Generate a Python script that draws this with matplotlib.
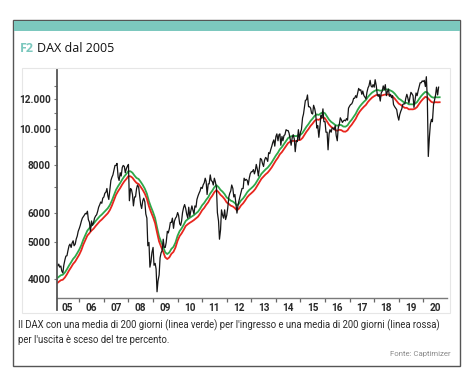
import matplotlib
matplotlib.use("Agg")
import matplotlib.pyplot as plt
import matplotlib.dates as mdates
from matplotlib.patches import Rectangle
from matplotlib.lines import Line2D
from matplotlib.ticker import FixedLocator, FixedFormatter, NullFormatter
import numpy as np
import pandas as pd

# ---------------- data (DAX, semi-monthly readings, Feb 2005 - Aug 2020) ----------------
dax_2005 = [4380, 4330, 4380, 4300, 4330, 4200, 4150, 4350, 4500, 4600, 4610, 4750,
            4900, 4950, 4850, 4980, 5050, 4900, 4950, 5100, 5200, 5350]
dax_2006 = [5450, 5550, 5700, 5800, 5850, 5900, 5970, 5950, 6050, 5750, 5650, 5350,
            5700, 5550, 5650, 5800, 5880, 5920, 6050, 6200, 6300, 6400, 6350, 6550]
dax_2007 = [6600, 6750, 6800, 6950, 6650, 6500, 6950, 7300, 7450, 7550, 7800, 8000,
            8000, 8100, 7450, 7300, 7650, 7500, 7900, 8000, 7950, 7650, 7850, 7950]
dax_2008 = [8050, 6450, 6950, 6900, 6700, 6250, 6600, 6600, 6950, 7100, 7000, 6650,
            6300, 6150, 6450, 6550, 6400, 5950, 5800, 4900, 5000, 4300, 4450, 4700]
dax_2009 = [4850, 4350, 4400, 4250, 3700, 3950, 4100, 4550, 4700, 4750, 5100, 4850,
            4850, 5000, 5350, 5300, 5450, 5650, 5650, 5800, 5450, 5700, 5800, 5850]
dax_2010 = [6000, 5900, 5600, 5550, 5700, 6000, 6200, 6300, 6150, 5950, 5800, 6200,
            5850, 6050, 6250, 6100, 5950, 6250, 6200, 6500, 6650, 6750, 6850, 7000]
dax_2011 = [6950, 7100, 7200, 7400, 7250, 6700, 7150, 7150, 7550, 7300, 7250, 7100,
            7400, 7250, 7000, 6000, 5700, 5100, 5400, 6100, 5900, 5800, 6100, 5750]
dax_2012 = [5900, 6150, 6600, 6750, 6850, 7100, 6950, 6600, 6700, 6350, 5980, 6250,
            6450, 6600, 6800, 6950, 6950, 7400, 7300, 7350, 7300, 7100, 7400, 7600]
dax_2013 = [7700, 7700, 7800, 7600, 7750, 8050, 7800, 7500, 7900, 8350, 8300, 8100,
            7950, 8250, 8400, 8350, 8200, 8650, 8600, 8800, 9000, 9200, 9350, 9000]
dax_2014 = [9550, 9700, 9300, 9650, 9700, 9050, 9550, 9300, 9600, 9650, 9950, 9900,
            9900, 9750, 9400, 9050, 9500, 9650, 9400, 8700, 9300, 9250, 9950, 9350]
dax_2015 = [9800, 9950, 10700, 10950, 11400, 11900, 11950, 12300, 11450, 11450, 11350, 11000,
            10950, 11550, 11300, 10950, 10050, 10200, 9500, 10050, 10850, 10700, 11300, 10450]
dax_2016 = [10450, 9800, 9800, 8800, 9700, 9950, 9800, 10050, 10050, 9950, 10200, 9600,
            9300, 10050, 10300, 10700, 10550, 10400, 10500, 10550, 10500, 10650, 10550, 11350]
dax_2017 = [11500, 11600, 11650, 11800, 12050, 12050, 12250, 12100, 12450, 12800, 12650, 12700,
            12350, 12600, 12250, 12150, 12000, 12500, 12850, 13000, 13450, 13000, 12900, 13100]
dax_2018 = [12900, 13500, 13000, 12350, 12200, 12350, 11850, 12450, 12600, 13000, 12700, 13100,
            12250, 12550, 12750, 12200, 12350, 12100, 12250, 11600, 11450, 11350, 11250, 10850]
dax_2019 = [10550, 10900, 11150, 11300, 11600, 11650, 11650, 12050, 12350, 12100, 11700, 12100,
            12500, 12400, 12250, 11400, 11950, 12450, 12250, 12600, 12950, 13250, 13250, 13400]
dax_2020 = [13350, 13450, 12950, 13750, 11900, 8450, 9550, 10300, 10600, 10450, 11600, 11900,
            12300, 12900, 12300, 12900]

# 200-day average (green), monthly readings Jan 2005 - Aug 2020
ma_2005 = [4013, 4049, 4092, 4105, 4162, 4242, 4341, 4428, 4520, 4587, 4681, 4787]
ma_2006 = [4919, 5081, 5232, 5374, 5455, 5540, 5604, 5697, 5778, 5864, 5927, 6007]
ma_2007 = [6089, 6160, 6283, 6455, 6675, 6890, 7048, 7185, 7340, 7482, 7591, 7726]
ma_2008 = [7719, 7653, 7518, 7412, 7364, 7242, 7103, 6944, 6740, 6432, 6214, 6020]
ma_2009 = [5800, 5490, 5188, 5023, 4870, 4708, 4658, 4706, 4807, 4867, 4996, 5207]
ma_2010 = [5360, 5443, 5564, 5697, 5760, 5810, 5857, 5908, 5969, 6033, 6141, 6273]
ma_2011 = [6365, 6479, 6586, 6741, 6856, 7001, 7094, 7012, 6894, 6816, 6717, 6580]
ma_2012 = [6522, 6456, 6421, 6360, 6270, 6333, 6460, 6543, 6656, 6792, 6887, 6962]
ma_2013 = [7045, 7143, 7296, 7446, 7604, 7703, 7809, 7893, 8012, 8154, 8317, 8498]
ma_2014 = [8649, 8827, 8948, 9112, 9279, 9452, 9533, 9577, 9584, 9561, 9628, 9640]
ma_2015 = [9754, 9934, 10136, 10298, 10499, 10646, 10830, 10923, 10891, 10995, 11064, 10998]
ma_2016 = [10781, 10585, 10441, 10350, 10246, 10188, 10255, 10230, 10143, 10135, 10219, 10418]
ma_2017 = [10574, 10754, 10959, 11235, 11463, 11636, 11796, 11936, 12154, 12329, 12478, 12587]
ma_2018 = [12674, 12674, 12622, 12651, 12700, 12725, 12722, 12636, 12558, 12411, 12218, 12030]
ma_2019 = [11938, 11828, 11720, 11724, 11616, 11620, 11614, 11663, 11780, 12011, 12217, 12390]
ma_2020 = [12536, 12491, 12311, 12158, 12098, 12135, 12123, 12131]

# exit line (red): 200-day average lowered by three percent
exit_2005 = [3893, 3928, 3969, 3982, 4037, 4115, 4211, 4295, 4384, 4449, 4541, 4643]
exit_2006 = [4771, 4929, 5075, 5213, 5291, 5374, 5436, 5526, 5605, 5688, 5749, 5827]
exit_2007 = [5906, 5975, 6095, 6261, 6475, 6683, 6837, 6969, 7120, 7258, 7363, 7494]
exit_2008 = [7487, 7423, 7292, 7190, 7143, 7025, 6890, 6736, 6538, 6239, 6028, 5839]
exit_2009 = [5626, 5325, 5032, 4872, 4724, 4567, 4518, 4565, 4663, 4721, 4846, 5051]
exit_2010 = [5199, 5280, 5397, 5526, 5587, 5636, 5681, 5731, 5790, 5852, 5957, 6085]
exit_2011 = [6174, 6285, 6388, 6539, 6650, 6791, 6881, 6802, 6687, 6612, 6515, 6383]
exit_2012 = [6326, 6262, 6228, 6169, 6082, 6143, 6266, 6347, 6456, 6588, 6680, 6753]
exit_2013 = [6834, 6929, 7077, 7223, 7376, 7472, 7575, 7656, 7772, 7909, 8067, 8243]
exit_2014 = [8390, 8562, 8680, 8839, 9001, 9168, 9247, 9290, 9296, 9274, 9339, 9351]
exit_2015 = [9461, 9636, 9832, 9989, 10184, 10327, 10505, 10595, 10564, 10665, 10732, 10668]
exit_2016 = [10458, 10267, 10128, 10039, 9939, 9882, 9947, 9923, 9839, 9831, 9912, 10105]
exit_2017 = [10257, 10431, 10630, 10898, 11119, 11287, 11442, 11578, 11789, 11959, 12104, 12209]
exit_2018 = [12294, 12294, 12243, 12271, 12319, 12343, 12340, 12257, 12181, 12039, 11851, 11669]
exit_2019 = [11580, 11473, 11368, 11372, 11267, 11271, 11266, 11313, 11427, 11651, 11850, 12018]
exit_2020 = [12160, 12116, 11942, 11793, 11735, 11771, 11759, 11767]

y_ticks = [4000, 5000, 6000, 8000, 10000, 12000]
y_tick_labels = ["4000", "5000", "6000", "8000", "10.000", "12.000"]
y_minor_ticks = [7000, 9000, 11000, 13000]

title_tag = "F2"
title_text = "DAX dal 2005"
caption = ("Il DAX con una media di 200 giorni (linea verde) per l'ingresso e una media di 200 giorni (linea rossa)\n"
           "per l'uscita è sceso del tre percento.")
source_text = "Fonte: Captimizer"

dax = sum([dax_2005, dax_2006, dax_2007, dax_2008, dax_2009, dax_2010, dax_2011, dax_2012,
           dax_2013, dax_2014, dax_2015, dax_2016, dax_2017, dax_2018, dax_2019, dax_2020], [])
ma = sum([ma_2005, ma_2006, ma_2007, ma_2008, ma_2009, ma_2010, ma_2011, ma_2012,
          ma_2013, ma_2014, ma_2015, ma_2016, ma_2017, ma_2018, ma_2019, ma_2020], [])
exit_line = sum([exit_2005, exit_2006, exit_2007, exit_2008, exit_2009, exit_2010, exit_2011, exit_2012,
                 exit_2013, exit_2014, exit_2015, exit_2016, exit_2017, exit_2018, exit_2019, exit_2020], [])

dax_dates = pd.date_range("2005-02-01", periods=len(dax), freq="SMS").to_numpy()
ma_dates = (pd.date_range("2005-02-01", periods=len(ma), freq="MS") - pd.Timedelta(days=1)).to_numpy()

# ---------------- figure ----------------
W, H = 474, 376
fig = plt.figure(figsize=(W / 100, H / 100), dpi=100)
fig.patch.set_facecolor("white")

def fx(p):
    return p / W

def fy(p):
    return 1 - p / H

TEAL = "#7cc8be"
narrow = ["Liberation Sans Narrow", "Roboto", "DejaVu Sans"]

fig.patches.append(Rectangle((fx(13), fy(366)), fx(460) - fx(13), fy(20) - fy(366),
                             transform=fig.transFigure, facecolor="white",
                             edgecolor="#555555", lw=1.0, zorder=-3))
fig.patches.append(Rectangle((fx(13.5), fy(30.5)), fx(459.5) - fx(13.5), fy(20.5) - fy(30.5),
                             transform=fig.transFigure, facecolor=TEAL,
                             edgecolor="none", zorder=-2))
fig.patches.append(Rectangle((fx(22), fy(313)), fx(450) - fx(22), fy(68) - fy(313),
                             transform=fig.transFigure, facecolor="none",
                             edgecolor="#e6e6e6", lw=0.8, zorder=-2))

fig.text(fx(19.5), fy(52), title_tag, color=TEAL, fontsize=9, fontweight="bold",
         family=["Open Sans", "DejaVu Sans"], va="baseline", ha="left")
fig.text(fx(37), fy(52), title_text, color="#111111", fontsize=9,
         family=["Open Sans", "DejaVu Sans"], va="baseline", ha="left")

fig.text(fx(18), fy(319), caption, color="#2a2a2a", fontsize=6.85, family=narrow,
         va="top", ha="left", linespacing=1.5)
fig.text(fx(451), fy(354), source_text, color="#8a8a8a", fontsize=5.6, family=narrow,
         va="center", ha="right")

# ---------------- axes ----------------
ax = fig.add_axes([fx(57), fy(298), fx(447) - fx(57), fy(70) - fy(298)])
ax.patch.set_alpha(0)

ax.plot(ma_dates, ma, color="#2ea84a", lw=1.3, zorder=2)
ax.plot(ma_dates, exit_line, color="#e8261e", lw=1.3, zorder=2)
ax.plot(dax_dates, dax, color="#151515", lw=0.9, zorder=3)

ax.set_yscale("log")
ax.set_ylim(3562, 14325)
ax.set_xlim(np.datetime64("2005-02-03"), np.datetime64("2020-12-18"))

ax.yaxis.set_major_locator(FixedLocator(y_ticks))
ax.yaxis.set_major_formatter(FixedFormatter(y_tick_labels))
ax.yaxis.set_minor_locator(FixedLocator(y_minor_ticks))
ax.yaxis.set_minor_formatter(NullFormatter())

ax.xaxis.set_major_locator(mdates.YearLocator(1))
ax.xaxis.set_major_formatter(NullFormatter())
ax.xaxis.set_minor_locator(mdates.MonthLocator(bymonth=7, bymonthday=1))
ax.xaxis.set_minor_formatter(mdates.DateFormatter("%y"))

ax.tick_params(axis="y", which="both", direction="out", length=2, width=0.8,
               color="#777777", pad=2.5, labelcolor="#2a2a2a")
ax.tick_params(axis="x", which="major", direction="out", length=3, width=0.9, color="#666666")
ax.tick_params(axis="x", which="minor", length=0, pad=3.5, labelcolor="#2a2a2a")

for lab in ax.get_yticklabels():
    lab.set_family(narrow)
    lab.set_fontweight("bold")
    lab.set_fontsize(7.2)
for lab in ax.get_xticklabels(minor=True):
    lab.set_family(narrow)
    lab.set_fontweight("bold")
    lab.set_fontsize(7.2)

for s in ["top", "right", "left"]:
    ax.spines[s].set_visible(False)
ax.spines["bottom"].set_color("#7a7a7a")
ax.spines["bottom"].set_linewidth(1.0)

ax.add_line(Line2D([0, 0], [-12 / 228, 1], transform=ax.transAxes, color="#555555",
                   lw=1.3, clip_on=False, zorder=5))

fig.savefig("out.png", dpi=100, facecolor="white")
